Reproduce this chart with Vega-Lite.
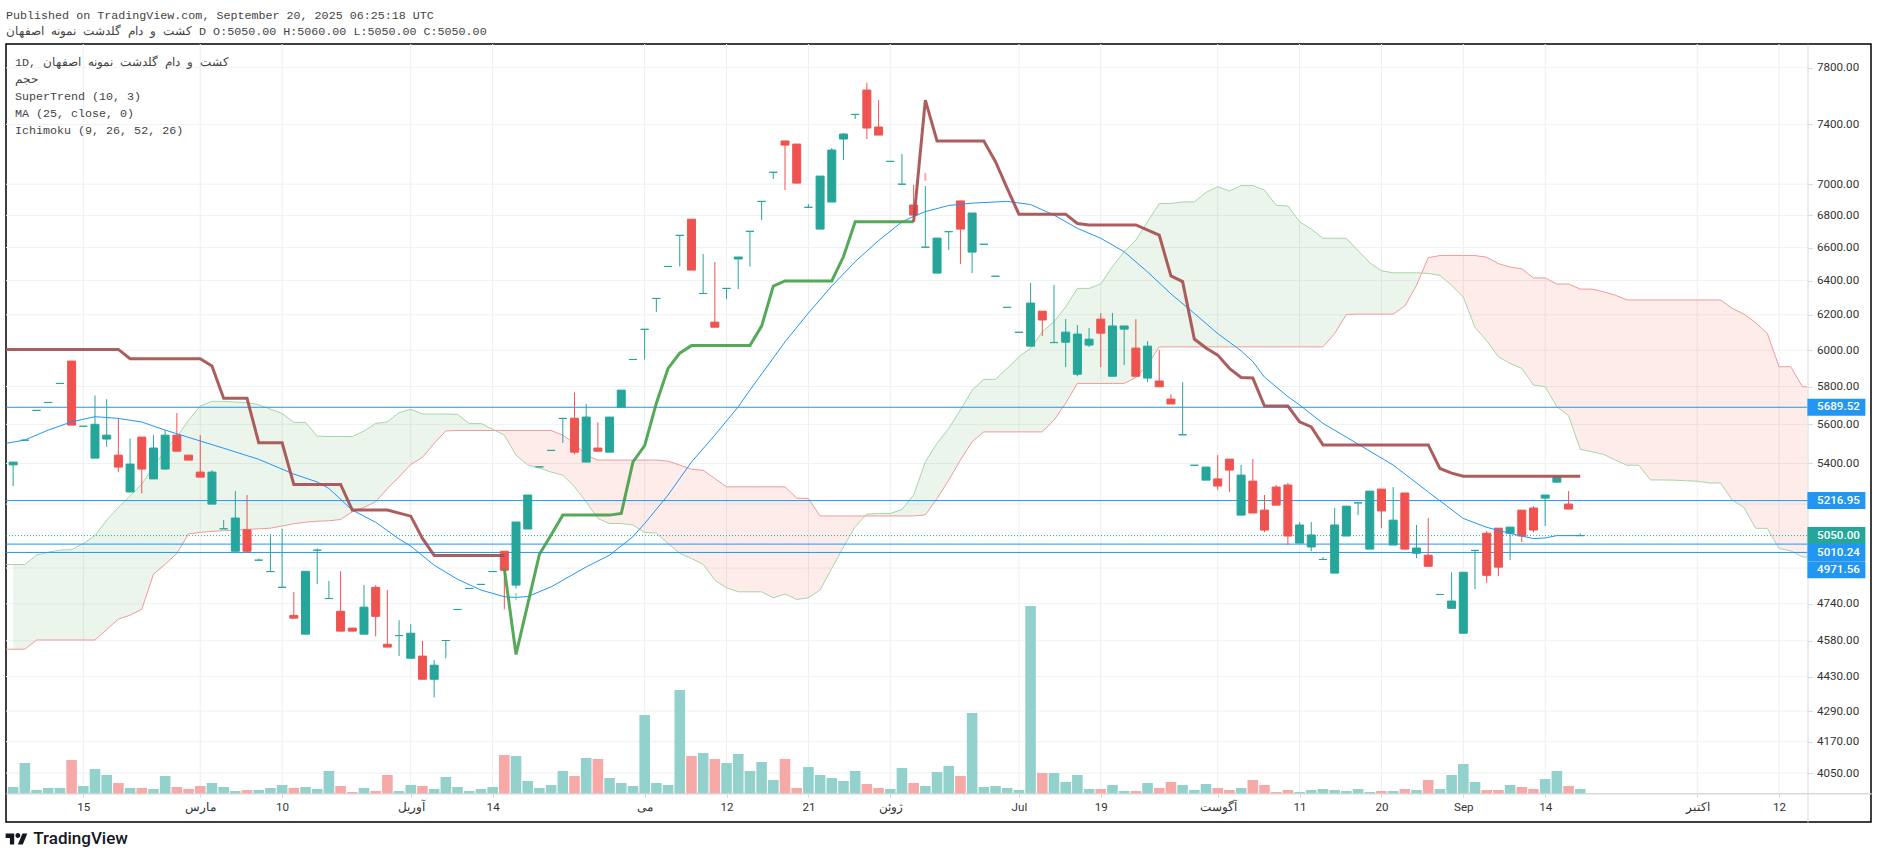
{
"$schema":"https://vega.github.io/schema/vega-lite/v6.json",
"autosize":"none","width":1865,"height":778,
"padding":{"left":6,"top":44,"right":7,"bottom":36},
"background":"#ffffff",
"config":{"view":{"stroke":"#000000","strokeWidth":1.5},"text":{"font":"Roboto"},"scale":{"continuousPadding":0}},
"title":{"text":"Published on TradingView.com, September 20, 2025 06:25:18 UTC","subtitle":"کشت و دام گلدشت نمونه اصفهان D O:5050.00 H:5060.00 L:5050.00 C:5050.00","anchor":"start","frame":"group","offset":6,"font":"Liberation Mono","fontSize":11.7,"fontWeight":"normal","color":"#444444","subtitleFont":"Liberation Mono","subtitleFontSize":11.7,"subtitleColor":"#444444","subtitlePadding":4},
"datasets":{
"candles":[
{"i":0,"o":5393,"h":5407,"l":5288,"c":5407,"v":6.3},{"i":1,"o":5518,"h":5518,"l":5518,"c":5518,"v":30.3},{"i":2,"o":5673,"h":5673,"l":5673,"c":5673,"v":3.3},{"i":3,"o":5715,"h":5715,"l":5715,"c":5715,"v":5.3},{"i":4,"o":5817,"h":5817,"l":5817,"c":5817,"v":5.3},{"i":5,"o":5939,"h":5939,"l":5596,"c":5596,"v":33.3},{"i":6,"o":5590,"h":5590,"l":5590,"c":5590,"v":7.3},{"i":7,"o":5427,"h":5752,"l":5427,"c":5600,"v":24.3},{"i":8,"o":5524,"h":5733,"l":5484,"c":5544,"v":18.3},{"i":9,"o":5442,"h":5631,"l":5356,"c":5382,"v":10.3},
{"i":10,"o":5259,"h":5527,"l":5259,"c":5397,"v":5.3},{"i":11,"o":5534,"h":5534,"l":5252,"c":5372,"v":5.3},{"i":12,"o":5323,"h":5544,"l":5323,"c":5478,"v":4.3},{"i":13,"o":5372,"h":5570,"l":5372,"c":5544,"v":17.3},{"i":14,"o":5544,"h":5659,"l":5462,"c":5462,"v":6.3},{"i":15,"o":5442,"h":5442,"l":5417,"c":5417,"v":4.3},{"i":16,"o":5357,"h":5544,"l":5332,"c":5332,"v":7.3},{"i":17,"o":5200,"h":5367,"l":5200,"c":5357,"v":10.3},{"i":18,"o":5082,"h":5123,"l":5082,"c":5082,"v":6.3},{"i":19,"o":4977,"h":5263,"l":4977,"c":5133,"v":2.3},
{"i":20,"o":5077,"h":5244,"l":4969,"c":4977,"v":3.3},{"i":21,"o":4936,"h":4944,"l":4936,"c":4936,"v":3.3},{"i":22,"o":4884,"h":5056,"l":4884,"c":4884,"v":5.3},{"i":23,"o":4813,"h":5083,"l":4813,"c":4813,"v":8.3},{"i":24,"o":4689,"h":4792,"l":4677,"c":4677,"v":5.3},{"i":25,"o":4608,"h":4885,"l":4608,"c":4885,"v":6.3},{"i":26,"o":4982,"h":4990,"l":4827,"c":4982,"v":4.3},{"i":27,"o":4763,"h":4841,"l":4763,"c":4763,"v":22.3},{"i":28,"o":4707,"h":4885,"l":4621,"c":4621,"v":7.3},{"i":29,"o":4634,"h":4634,"l":4621,"c":4621,"v":1.3},
{"i":30,"o":4608,"h":4823,"l":4608,"c":4725,"v":5.3},{"i":31,"o":4813,"h":4823,"l":4599,"c":4685,"v":2.3},{"i":32,"o":4565,"h":4801,"l":4553,"c":4553,"v":18.3},{"i":33,"o":4602,"h":4668,"l":4515,"c":4602,"v":2.3},{"i":34,"o":4506,"h":4651,"l":4506,"c":4612,"v":8.3},{"i":35,"o":4515,"h":4579,"l":4419,"c":4419,"v":7.3},{"i":36,"o":4419,"h":4498,"l":4345,"c":4477,"v":4.3},{"i":37,"o":4581,"h":4581,"l":4506,"c":4581,"v":16.3},{"i":38,"o":4715,"h":4715,"l":4715,"c":4715,"v":6.3},{"i":39,"o":4808,"h":4808,"l":4808,"c":4808,"v":2.3},
{"i":40,"o":4826,"h":4826,"l":4826,"c":4826,"v":4.3},{"i":41,"o":4884,"h":4884,"l":4884,"c":4884,"v":6.3},{"i":42,"o":4977,"h":4977,"l":4716,"c":4890,"v":38.3},{"i":43,"o":4823,"h":5114,"l":4808,"c":5114,"v":37.3},{"i":44,"o":5081,"h":5244,"l":5081,"c":5244,"v":12.3},{"i":45,"o":5383,"h":5383,"l":5383,"c":5383,"v":5.3},{"i":46,"o":5466,"h":5466,"l":5466,"c":5466,"v":8.3},{"i":47,"o":5631,"h":5631,"l":5504,"c":5631,"v":22.3},{"i":48,"o":5632,"h":5769,"l":5447,"c":5457,"v":17.3},{"i":49,"o":5407,"h":5707,"l":5407,"c":5638,"v":35.3},
{"i":50,"o":5478,"h":5611,"l":5462,"c":5462,"v":34.3},{"i":51,"o":5457,"h":5638,"l":5457,"c":5638,"v":15.3},{"i":52,"o":5689,"h":5781,"l":5689,"c":5781,"v":10.3},{"i":53,"o":5948,"h":5948,"l":5948,"c":5948,"v":7.3},{"i":54,"o":6117,"h":6117,"l":5948,"c":6117,"v":78.3},{"i":55,"o":6295,"h":6295,"l":6217,"c":6295,"v":10.3},{"i":56,"o":6485,"h":6485,"l":6485,"c":6485,"v":8.3},{"i":57,"o":6675,"h":6675,"l":6485,"c":6675,"v":103.3},{"i":58,"o":6776,"h":6776,"l":6463,"c":6463,"v":37.3},{"i":59,"o":6324,"h":6560,"l":6324,"c":6324,"v":40.3},
{"i":60,"o":6158,"h":6512,"l":6129,"c":6129,"v":34.3},{"i":61,"o":6354,"h":6354,"l":6291,"c":6354,"v":30.3},{"i":62,"o":6530,"h":6542,"l":6350,"c":6542,"v":39.3},{"i":63,"o":6700,"h":6700,"l":6485,"c":6700,"v":22.3},{"i":64,"o":6889,"h":6889,"l":6770,"c":6889,"v":31.3},{"i":65,"o":7078,"h":7078,"l":7034,"c":7078,"v":13.3},{"i":66,"o":7287,"h":7287,"l":6962,"c":7259,"v":34.3},{"i":67,"o":7266,"h":7266,"l":7007,"c":7007,"v":5.3},{"i":68,"o":6851,"h":6872,"l":6851,"c":6851,"v":26.3},{"i":69,"o":6714,"h":7053,"l":6714,"c":7053,"v":18.3},
{"i":70,"o":6885,"h":7239,"l":6885,"c":7226,"v":15.3},{"i":71,"o":7300,"h":7341,"l":7159,"c":7334,"v":12.3},{"i":72,"o":7469,"h":7469,"l":7437,"c":7469,"v":22.3},{"i":73,"o":7640,"h":7692,"l":7300,"c":7375,"v":9.3},{"i":74,"o":7382,"h":7569,"l":7327,"c":7327,"v":5.3},{"i":75,"o":7150,"h":7150,"l":7150,"c":7150,"v":4.3},{"i":76,"o":7000,"h":7199,"l":7000,"c":7000,"v":25.3},{"i":77,"o":6866,"h":6995,"l":6802,"c":6802,"v":10.3},{"i":78,"o":6602,"h":6988,"l":6602,"c":6602,"v":7.3},{"i":79,"o":6445,"h":6658,"l":6445,"c":6658,"v":21.3},
{"i":80,"o":6698,"h":6698,"l":6585,"c":6698,"v":27.3},{"i":81,"o":6892,"h":6892,"l":6500,"c":6714,"v":17.3},{"i":82,"o":6572,"h":6815,"l":6445,"c":6815,"v":80.3},{"i":83,"o":6620,"h":6620,"l":6620,"c":6620,"v":6.3},{"i":84,"o":6426,"h":6426,"l":6426,"c":6426,"v":7.3},{"i":85,"o":6243,"h":6243,"l":6243,"c":6243,"v":5.3},{"i":86,"o":6100,"h":6100,"l":6100,"c":6100,"v":3.3},{"i":87,"o":6022,"h":6386,"l":6022,"c":6268,"v":187.3},{"i":88,"o":6221,"h":6221,"l":6079,"c":6170,"v":20.3},{"i":89,"o":6042,"h":6374,"l":6042,"c":6042,"v":20.3},
{"i":90,"o":6044,"h":6175,"l":5906,"c":6101,"v":11.3},{"i":91,"o":5867,"h":6141,"l":5856,"c":6090,"v":18.3},{"i":92,"o":6028,"h":6124,"l":6017,"c":6061,"v":4.3},{"i":93,"o":6175,"h":6210,"l":5906,"c":6095,"v":4.3},{"i":94,"o":5856,"h":6210,"l":5856,"c":6136,"v":8.3},{"i":95,"o":6118,"h":6136,"l":5917,"c":6136,"v":2.3},{"i":96,"o":6011,"h":6175,"l":5856,"c":5856,"v":2.3},{"i":97,"o":5846,"h":6050,"l":5824,"c":6022,"v":10.3},{"i":98,"o":5830,"h":6000,"l":5799,"c":5799,"v":5.3},{"i":99,"o":5733,"h":5760,"l":5707,"c":5707,"v":11.3},
{"i":100,"o":5546,"h":5824,"l":5546,"c":5546,"v":8.3},{"i":101,"o":5391,"h":5391,"l":5391,"c":5391,"v":3.3},{"i":102,"o":5317,"h":5382,"l":5317,"c":5382,"v":9.3},{"i":103,"o":5323,"h":5442,"l":5268,"c":5288,"v":5.3},{"i":104,"o":5422,"h":5422,"l":5259,"c":5367,"v":3.3},{"i":105,"o":5147,"h":5392,"l":5147,"c":5342,"v":5.3},{"i":106,"o":5312,"h":5422,"l":5157,"c":5157,"v":13.3},{"i":107,"o":5171,"h":5244,"l":5066,"c":5076,"v":8.3},{"i":108,"o":5283,"h":5293,"l":5195,"c":5195,"v":1.3},{"i":109,"o":5293,"h":5303,"l":5006,"c":5048,"v":3.3},
{"i":110,"o":5015,"h":5114,"l":5015,"c":5100,"v":1.3},{"i":111,"o":4997,"h":5114,"l":4977,"c":5053,"v":3.3},{"i":112,"o":4939,"h":4950,"l":4939,"c":4939,"v":4.3},{"i":113,"o":4877,"h":5181,"l":4877,"c":5100,"v":3.3},{"i":114,"o":5048,"h":5190,"l":5048,"c":5190,"v":2.3},{"i":115,"o":5206,"h":5206,"l":5147,"c":5206,"v":4.3},{"i":116,"o":4987,"h":5263,"l":4987,"c":5263,"v":1.3},{"i":117,"o":5273,"h":5273,"l":5085,"c":5167,"v":2.3},{"i":118,"o":5006,"h":5283,"l":5006,"c":5123,"v":2.3},{"i":119,"o":5254,"h":5254,"l":4987,"c":4987,"v":4.3},
{"i":120,"o":4968,"h":5100,"l":4945,"c":4992,"v":3.3},{"i":121,"o":4959,"h":5133,"l":4908,"c":4908,"v":13.3},{"i":122,"o":4781,"h":4781,"l":4781,"c":4781,"v":4.3},{"i":123,"o":4720,"h":4881,"l":4720,"c":4752,"v":18.3},{"i":124,"o":4612,"h":4881,"l":4612,"c":4881,"v":29.3},{"i":125,"o":4981,"h":4981,"l":4805,"c":4981,"v":11.3},{"i":126,"o":5061,"h":5071,"l":4832,"c":4867,"v":3.3},{"i":127,"o":5085,"h":5085,"l":4863,"c":4904,"v":3.3},{"i":128,"o":5061,"h":5090,"l":4936,"c":5090,"v":8.3},{"i":129,"o":5171,"h":5171,"l":5020,"c":5048,"v":6.3},
{"i":130,"o":5181,"h":5190,"l":5066,"c":5076,"v":4.3},{"i":131,"o":5229,"h":5244,"l":5095,"c":5244,"v":14.3},{"i":132,"o":5307,"h":5332,"l":5307,"c":5332,"v":22.3},{"i":133,"o":5200,"h":5263,"l":5176,"c":5176,"v":7.3},{"i":134,"o":5050,"h":5060,"l":5050,"c":5050,"v":4.3}
],
"cloud":[
{"i":-0.6,"a":4916,"b":4544,"seg":"g1"},{"i":0,"a":4916,"b":4544,"seg":"g1"},{"i":1,"a":4916,"b":4544,"seg":"g1"},{"i":2,"a":4959,"b":4583,"seg":"g1"},{"i":3,"a":4973,"b":4583,"seg":"g1"},{"i":4,"a":4982,"b":4583,"seg":"g1"},{"i":5,"a":4985,"b":4583,"seg":"g1"},{"i":6,"a":5013,"b":4583,"seg":"g1"},{"i":7,"a":5050,"b":4583,"seg":"g1"},{"i":8,"a":5123,"b":4628,"seg":"g1"},{"i":9,"a":5184,"b":4673,"seg":"g1"},{"i":10,"a":5240,"b":4690,"seg":"g1"},{"i":11,"a":5297,"b":4716,"seg":"g1"},{"i":12,"a":5384,"b":4872,"seg":"g1"},{"i":13,"a":5468,"b":4917,"seg":"g1"},{"i":14,"a":5534,"b":4967,"seg":"g1"},{"i":15,"a":5622,"b":5058,"seg":"g1"},{"i":16,"a":5696,"b":5065,"seg":"g1"},{"i":17,"a":5721,"b":5070,"seg":"g1"},{"i":18,"a":5721,"b":5073,"seg":"g1"},{"i":19,"a":5717,"b":5076,"seg":"g1"},{"i":20,"a":5714,"b":5079,"seg":"g1"},{"i":21,"a":5703,"b":5082,"seg":"g1"},{"i":22,"a":5680,"b":5085,"seg":"g1"},{"i":23,"a":5657,"b":5095,"seg":"g1"},{"i":24,"a":5610,"b":5106,"seg":"g1"},{"i":25,"a":5610,"b":5113,"seg":"g1"},{"i":26,"a":5539,"b":5118,"seg":"g1"},{"i":27,"a":5537,"b":5120,"seg":"g1"},{"i":28,"a":5537,"b":5126,"seg":"g1"},{"i":29,"a":5537,"b":5163,"seg":"g1"},{"i":30,"a":5565,"b":5184,"seg":"g1"},{"i":31,"a":5605,"b":5211,"seg":"g1"},{"i":32,"a":5613,"b":5276,"seg":"g1"},{"i":33,"a":5661,"b":5333,"seg":"g1"},{"i":34,"a":5679,"b":5395,"seg":"g1"},{"i":35,"a":5654,"b":5431,"seg":"g1"},{"i":36,"a":5654,"b":5502,"seg":"g1"},{"i":37,"a":5654,"b":5566,"seg":"g1"},{"i":38,"a":5652,"b":5568,"seg":"g1"},{"i":39,"a":5605,"b":5568,"seg":"g1"},{"i":40,"a":5605,"b":5568,"seg":"g1"},{"i":41,"a":5574,"b":5568,"seg":"g1"},{"i":41.2,"a":5569,"b":5569,"seg":"g1"},
{"i":41.2,"a":5569,"b":5569,"seg":"r1"},{"i":42,"a":5544,"b":5568,"seg":"r1"},{"i":43,"a":5442,"b":5568,"seg":"r1"},{"i":44,"a":5392,"b":5568,"seg":"r1"},{"i":45,"a":5377,"b":5568,"seg":"r1"},{"i":46,"a":5357,"b":5568,"seg":"r1"},{"i":47,"a":5342,"b":5544,"seg":"r1"},{"i":48,"a":5284,"b":5502,"seg":"r1"},{"i":49,"a":5211,"b":5442,"seg":"r1"},{"i":50,"a":5131,"b":5417,"seg":"r1"},{"i":51,"a":5107,"b":5417,"seg":"r1"},{"i":52,"a":5107,"b":5417,"seg":"r1"},{"i":53,"a":5100,"b":5417,"seg":"r1"},{"i":54,"a":5065,"b":5417,"seg":"r1"},{"i":55,"a":5062,"b":5417,"seg":"r1"},{"i":56,"a":5013,"b":5412,"seg":"r1"},{"i":57,"a":4967,"b":5392,"seg":"r1"},{"i":58,"a":4944,"b":5371,"seg":"r1"},{"i":59,"a":4917,"b":5366,"seg":"r1"},{"i":60,"a":4845,"b":5325,"seg":"r1"},{"i":61,"a":4811,"b":5284,"seg":"r1"},{"i":62,"a":4793,"b":5284,"seg":"r1"},{"i":63,"a":4793,"b":5284,"seg":"r1"},{"i":64,"a":4793,"b":5284,"seg":"r1"},{"i":65,"a":4766,"b":5284,"seg":"r1"},{"i":66,"a":4783,"b":5284,"seg":"r1"},{"i":67,"a":4759,"b":5229,"seg":"r1"},{"i":68,"a":4766,"b":5227,"seg":"r1"},{"i":69,"a":4801,"b":5143,"seg":"r1"},{"i":70,"a":4898,"b":5143,"seg":"r1"},{"i":71,"a":4997,"b":5143,"seg":"r1"},{"i":72,"a":5092,"b":5143,"seg":"r1"},{"i":72.85,"a":5143,"b":5143,"seg":"r1"},
{"i":72.85,"a":5143,"b":5143,"seg":"g2"},{"i":73,"a":5152,"b":5143,"seg":"g2"},{"i":74,"a":5155,"b":5143,"seg":"g2"},{"i":75,"a":5155,"b":5143,"seg":"g2"},{"i":76,"a":5174,"b":5143,"seg":"g2"},{"i":77,"a":5244,"b":5143,"seg":"g2"},{"i":78,"a":5408,"b":5148,"seg":"g2"},{"i":79,"a":5502,"b":5227,"seg":"g2"},{"i":80,"a":5579,"b":5317,"seg":"g2"},{"i":81,"a":5675,"b":5417,"seg":"g2"},{"i":82,"a":5781,"b":5510,"seg":"g2"},{"i":83,"a":5839,"b":5561,"seg":"g2"},{"i":84,"a":5839,"b":5561,"seg":"g2"},{"i":85,"a":5899,"b":5561,"seg":"g2"},{"i":86,"a":5963,"b":5561,"seg":"g2"},{"i":87,"a":6009,"b":5561,"seg":"g2"},{"i":88,"a":6103,"b":5561,"seg":"g2"},{"i":89,"a":6160,"b":5622,"seg":"g2"},{"i":90,"a":6246,"b":5711,"seg":"g2"},{"i":91,"a":6354,"b":5817,"seg":"g2"},{"i":92,"a":6354,"b":5817,"seg":"g2"},{"i":93,"a":6380,"b":5817,"seg":"g2"},{"i":94,"a":6485,"b":5817,"seg":"g2"},{"i":95,"a":6574,"b":5817,"seg":"g2"},{"i":96,"a":6646,"b":5850,"seg":"g2"},{"i":97,"a":6760,"b":5917,"seg":"g2"},{"i":98,"a":6875,"b":6018,"seg":"g2"},{"i":99,"a":6875,"b":6018,"seg":"g2"},{"i":100,"a":6886,"b":6018,"seg":"g2"},{"i":101,"a":6886,"b":6018,"seg":"g2"},{"i":102,"a":6947,"b":6018,"seg":"g2"},{"i":103,"a":6984,"b":6018,"seg":"g2"},{"i":104,"a":6956,"b":6018,"seg":"g2"},{"i":105,"a":6991,"b":6018,"seg":"g2"},{"i":106,"a":6991,"b":6018,"seg":"g2"},{"i":107,"a":6962,"b":6018,"seg":"g2"},{"i":108,"a":6864,"b":6018,"seg":"g2"},{"i":109,"a":6860,"b":6018,"seg":"g2"},{"i":110,"a":6760,"b":6018,"seg":"g2"},{"i":111,"a":6714,"b":6018,"seg":"g2"},{"i":112,"a":6657,"b":6018,"seg":"g2"},{"i":113,"a":6657,"b":6093,"seg":"g2"},{"i":114,"a":6657,"b":6202,"seg":"g2"},{"i":115,"a":6581,"b":6204,"seg":"g2"},{"i":116,"a":6507,"b":6204,"seg":"g2"},{"i":117,"a":6459,"b":6204,"seg":"g2"},{"i":118,"a":6447,"b":6204,"seg":"g2"},{"i":119,"a":6447,"b":6251,"seg":"g2"},{"i":120,"a":6447,"b":6372,"seg":"g2"},{"i":120.44,"a":6445,"b":6445,"seg":"g2"},
{"i":120.44,"a":6445,"b":6445,"seg":"r2"},{"i":121,"a":6443,"b":6538,"seg":"r2"},{"i":122,"a":6431,"b":6551,"seg":"r2"},{"i":123,"a":6372,"b":6551,"seg":"r2"},{"i":124,"a":6303,"b":6551,"seg":"r2"},{"i":125,"a":6128,"b":6551,"seg":"r2"},{"i":126,"a":6052,"b":6541,"seg":"r2"},{"i":127,"a":5963,"b":6502,"seg":"r2"},{"i":128,"a":5926,"b":6481,"seg":"r2"},{"i":129,"a":5899,"b":6471,"seg":"r2"},{"i":130,"a":5808,"b":6416,"seg":"r2"},{"i":131,"a":5799,"b":6416,"seg":"r2"},{"i":132,"a":5692,"b":6380,"seg":"r2"},{"i":133,"a":5645,"b":6380,"seg":"r2"},{"i":134,"a":5472,"b":6350,"seg":"r2"},{"i":135,"a":5459,"b":6350,"seg":"r2"},{"i":136,"a":5446,"b":6334,"seg":"r2"},{"i":137,"a":5417,"b":6314,"seg":"r2"},{"i":138,"a":5391,"b":6286,"seg":"r2"},{"i":139,"a":5391,"b":6286,"seg":"r2"},{"i":140,"a":5318,"b":6286,"seg":"r2"},{"i":141,"a":5318,"b":6286,"seg":"r2"},{"i":142,"a":5317,"b":6286,"seg":"r2"},{"i":143,"a":5314,"b":6286,"seg":"r2"},{"i":144,"a":5312,"b":6286,"seg":"r2"},{"i":145,"a":5303,"b":6286,"seg":"r2"},{"i":146,"a":5303,"b":6286,"seg":"r2"},{"i":147,"a":5219,"b":6237,"seg":"r2"},{"i":148,"a":5184,"b":6204,"seg":"r2"},{"i":149,"a":5084,"b":6154,"seg":"r2"},{"i":150,"a":5084,"b":6093,"seg":"r2"},{"i":151,"a":4990,"b":5908,"seg":"r2"},{"i":152,"a":4979,"b":5908,"seg":"r2"},{"i":153,"a":4951,"b":5799,"seg":"r2"},{"i":153.4,"a":4949,"b":5799,"seg":"r2"}
],
"ma":[
{"i":-0.6,"p":5502},{"i":1,"p":5519},{"i":3,"p":5570},{"i":5,"p":5613},{"i":7,"p":5640},{"i":9,"p":5631},{"i":11,"p":5612},{"i":13,"p":5570},{"i":16,"p":5514},{"i":18,"p":5477},{"i":21,"p":5421},{"i":24,"p":5347},{"i":26,"p":5308},{"i":27,"p":5276},{"i":29,"p":5171},{"i":31,"p":5113},{"i":33,"p":5034},{"i":34,"p":5001},{"i":36,"p":4913},{"i":38,"p":4849},{"i":40,"p":4801},{"i":42,"p":4771},{"i":43,"p":4768},{"i":44,"p":4772},{"i":46,"p":4815},{"i":49,"p":4905},{"i":51,"p":4959},{"i":53,"p":5045},{"i":54,"p":5107},{"i":56,"p":5244},{"i":58,"p":5407},{"i":60,"p":5544},{"i":62,"p":5692},{"i":63,"p":5781},{"i":66,"p":6046},{"i":68,"p":6210},{"i":70,"p":6368},{"i":72,"p":6514},{"i":74,"p":6643},{"i":76,"p":6759},{"i":77,"p":6794},{"i":78,"p":6824},{"i":80,"p":6863},{"i":82,"p":6878},{"i":85,"p":6889},{"i":87,"p":6869},{"i":89,"p":6802},{"i":91,"p":6719},{"i":93,"p":6657},{"i":95,"p":6574},{"i":97,"p":6452},{"i":99,"p":6322},{"i":101,"p":6208},{"i":103,"p":6093},{"i":105,"p":5996},{"i":106,"p":5936},{"i":107,"p":5851},{"i":109,"p":5746},{"i":110,"p":5702},{"i":112,"p":5605},{"i":114,"p":5534},{"i":115,"p":5498},{"i":118,"p":5392},{"i":121,"p":5259},{"i":124,"p":5131},{"i":126,"p":5089},{"i":128,"p":5060},{"i":130,"p":5036},{"i":131,"p":5039},{"i":132,"p":5050},{"i":134,"p":5050}
],
"supertrend":[
{"i":-0.6,"p":6004,"seg":"down1"},{"i":9,"p":6004,"seg":"down1"},{"i":10,"p":5952,"seg":"down1"},{"i":16,"p":5952,"seg":"down1"},{"i":17,"p":5912,"seg":"down1"},{"i":18,"p":5737,"seg":"down1"},{"i":20,"p":5737,"seg":"down1"},{"i":21,"p":5505,"seg":"down1"},{"i":23,"p":5505,"seg":"down1"},{"i":24,"p":5296,"seg":"down1"},{"i":28,"p":5296,"seg":"down1"},{"i":29,"p":5171,"seg":"down1"},{"i":32,"p":5171,"seg":"down1"},{"i":34,"p":5142,"seg":"down1"},{"i":35,"p":5037,"seg":"down1"},{"i":36,"p":4958,"seg":"down1"},{"i":42,"p":4958,"seg":"down1"},
{"i":42,"p":4899,"seg":"up"},{"i":43,"p":4522,"seg":"up"},{"i":45,"p":4963,"seg":"up"},{"i":46,"p":5053,"seg":"up"},{"i":47,"p":5147,"seg":"up"},{"i":51,"p":5147,"seg":"up"},{"i":52,"p":5155,"seg":"up"},{"i":53,"p":5408,"seg":"up"},{"i":54,"p":5490,"seg":"up"},{"i":55,"p":5711,"seg":"up"},{"i":56,"p":5899,"seg":"up"},{"i":57,"p":5983,"seg":"up"},{"i":58,"p":6025,"seg":"up"},{"i":63,"p":6025,"seg":"up"},{"i":64,"p":6135,"seg":"up"},{"i":65,"p":6368,"seg":"up"},{"i":66,"p":6398,"seg":"up"},{"i":70,"p":6398,"seg":"up"},{"i":71,"p":6545,"seg":"up"},{"i":72,"p":6760,"seg":"up"},{"i":77,"p":6760,"seg":"up"},
{"i":77,"p":6760,"seg":"down2"},{"i":78,"p":7569,"seg":"down2"},{"i":79,"p":7287,"seg":"down2"},{"i":83,"p":7287,"seg":"down2"},{"i":84,"p":7148,"seg":"down2"},{"i":85,"p":6973,"seg":"down2"},{"i":86,"p":6808,"seg":"down2"},{"i":90,"p":6808,"seg":"down2"},{"i":91,"p":6749,"seg":"down2"},{"i":92,"p":6740,"seg":"down2"},{"i":96,"p":6740,"seg":"down2"},{"i":98,"p":6676,"seg":"down2"},{"i":99,"p":6428,"seg":"down2"},{"i":100,"p":6394,"seg":"down2"},{"i":101,"p":6062,"seg":"down2"},{"i":102,"p":6012,"seg":"down2"},{"i":103,"p":5972,"seg":"down2"},{"i":104,"p":5899,"seg":"down2"},{"i":105,"p":5849,"seg":"down2"},{"i":106,"p":5846,"seg":"down2"},{"i":107,"p":5696,"seg":"down2"},{"i":109,"p":5696,"seg":"down2"},{"i":110,"p":5613,"seg":"down2"},{"i":111,"p":5587,"seg":"down2"},{"i":112,"p":5494,"seg":"down2"},{"i":121,"p":5494,"seg":"down2"},{"i":122,"p":5375,"seg":"down2"},{"i":123,"p":5352,"seg":"down2"},{"i":124,"p":5336,"seg":"down2"},{"i":134,"p":5336,"seg":"down2"}
],
"flips":[{"i":43,"lo":4756,"hi":4787,"kind":"up"},{"i":78,"lo":7022,"hi":7073,"kind":"down"}],
"levels":[{"p":5689.52},{"p":5216.95},{"p":5010.24},{"p":4971.56}],
"ygrid":[{"p":7800},{"p":7400},{"p":7000},{"p":6800},{"p":6600},{"p":6400},{"p":6200},{"p":6000},{"p":5800},{"p":5600},{"p":5400},{"p":5200},{"p":4900},{"p":4740},{"p":4580},{"p":4430},{"p":4290},{"p":4170},{"p":4050}],
"xgrid":[{"i":6},{"i":16},{"i":23},{"i":34},{"i":41},{"i":54},{"i":61},{"i":68},{"i":75},{"i":86},{"i":93},{"i":103},{"i":110},{"i":117},{"i":124},{"i":131},{"i":144},{"i":151}]
},
"resolve":{"scale":{"y":"independent"},"axis":{"y":"independent"}},
"layer":[
{"layer":[
{"data":{"name":"xgrid"},"mark":{"type":"rule","color":"#eceef1","strokeWidth":1},"encoding":{"x":{"field":"i","type":"quantitative","title":null,"scale":{"domain":[-0.61,158.86],"nice":false,"zero":false},"axis":{"title":null,"grid":false,"offset":-28.7,"values":[6,16,23,34,41,54,61,68,75,86,93,103,110,117,124,131,144,151],"labelExpr":"{'6':'15','16':'مارس','23':'10','34':'آوریل','41':'14','54':'می','61':'12','68':'21','75':'ژوئن','86':'Jul','93':'19','103':'آگوست','110':'11','117':'20','124':'Sep','131':'14','144':'اکتبر','151':'12'}[datum.value]","domainColor":"#d9d9d9","domainWidth":1.5,"tickColor":"#d9d9d9","tickSize":4,"labelFont":"Roboto","labelFontSize":11.6,"labelColor":"#333333","labelPadding":4,"labelFlush":false,"labelOverlap":false}},"y":{"datum":7974,"scale":{"type":"log","domain":[3870,7974],"nice":false}},"y2":{"datum":3974}}},
{"data":{"name":"ygrid"},"mark":{"type":"rule","color":"#f0f1f3","strokeWidth":1},"encoding":{"x":{"datum":-0.61,"scale":{"domain":[-0.61,158.86],"nice":false,"zero":false}},"x2":{"datum":153.4},"y":{"field":"p","type":"quantitative","title":null,"scale":{"type":"log","domain":[3870,7974],"nice":false},"axis":{"title":null,"orient":"right","offset":-63.5,"grid":false,"values":[7800,7400,7000,6800,6600,6400,6200,6000,5800,5600,5400,4740,4580,4430,4290,4170,4050],"format":".2f","labelFont":"Roboto","labelFontSize":11.6,"labelColor":"#333333","labelPadding":4,"tickSize":5,"tickColor":"#d9d9d9","domainColor":"#d9d9d9","labelOverlap":false,"labelBound":false,"labelFlush":false}}}}
]},
{"data":{"name":"candles"},"mark":{"type":"bar","size":10.6},"encoding":{"x":{"field":"i","type":"quantitative","scale":{"domain":[-0.61,158.86],"nice":false,"zero":false}},"y":{"field":"v","type":"quantitative","scale":{"domain":[-28.7,749.3],"nice":false,"zero":false},"axis":null},"color":{"condition":{"test":"datum.c>=datum.o","value":"#93d2cc"},"value":"#f7a9a7"}}},
{"layer":[
{"data":{"name":"cloud"},"transform":[{"filter":"datum.i>=0"}],"mark":{"type":"area","opacity":0.1},"encoding":{"x":{"field":"i","type":"quantitative","scale":{"domain":[-0.61,158.86],"nice":false,"zero":false}},"y":{"field":"a","type":"quantitative","scale":{"type":"log","domain":[3870,7974],"nice":false},"axis":null},"y2":{"field":"b"},"color":{"field":"seg","scale":{"domain":["g1","r1","g2","r2"],"range":["#43a047","#f44336","#43a047","#f44336"]},"legend":null}}},
{"data":{"name":"cloud"},"mark":{"type":"line","color":"#a5d6a7","strokeWidth":1},"encoding":{"x":{"field":"i","type":"quantitative","scale":{"domain":[-0.61,158.86],"nice":false,"zero":false}},"y":{"field":"a","type":"quantitative","scale":{"type":"log","domain":[3870,7974],"nice":false},"axis":null}}},
{"data":{"name":"cloud"},"mark":{"type":"line","color":"#ef9a9a","strokeWidth":1},"encoding":{"x":{"field":"i","type":"quantitative","scale":{"domain":[-0.61,158.86],"nice":false,"zero":false}},"y":{"field":"b","type":"quantitative","scale":{"type":"log","domain":[3870,7974],"nice":false},"axis":null}}},
{"data":{"name":"levels"},"mark":{"type":"rule","color":"#2196f3","strokeWidth":1},"encoding":{"x":{"datum":-0.61,"scale":{"domain":[-0.61,158.86],"nice":false,"zero":false}},"x2":{"datum":153.4},"y":{"field":"p","type":"quantitative","scale":{"type":"log","domain":[3870,7974],"nice":false},"axis":null}}},
{"data":{"values":[{"p":5050}]},"mark":{"type":"rule","color":"#26a69a","strokeWidth":1,"strokeDash":[1,2]},"encoding":{"x":{"datum":-0.61,"scale":{"domain":[-0.61,158.86],"nice":false,"zero":false}},"x2":{"datum":153.4},"y":{"field":"p","type":"quantitative","scale":{"type":"log","domain":[3870,7974],"nice":false},"axis":null}}},
{"data":{"name":"candles"},"mark":{"type":"rule","strokeWidth":1},"encoding":{"x":{"field":"i","type":"quantitative","scale":{"domain":[-0.61,158.86],"nice":false,"zero":false}},"y":{"field":"l","type":"quantitative","scale":{"type":"log","domain":[3870,7974],"nice":false},"axis":null},"y2":{"field":"h"},"color":{"condition":{"test":"datum.c>=datum.o","value":"#26a69a"},"value":"#ef5350"}}},
{"data":{"name":"candles"},"mark":{"type":"bar","size":8,"strokeWidth":1},"encoding":{"x":{"field":"i","type":"quantitative","scale":{"domain":[-0.61,158.86],"nice":false,"zero":false}},"y":{"field":"o","type":"quantitative","scale":{"type":"log","domain":[3870,7974],"nice":false},"axis":null},"y2":{"field":"c"},"color":{"condition":{"test":"datum.c>=datum.o","value":"#26a69a"},"value":"#ef5350"},"stroke":{"condition":{"test":"datum.c>=datum.o","value":"#26a69a"},"value":"#ef5350"}}},
{"data":{"name":"ma"},"mark":{"type":"line","color":"#2196f3","strokeWidth":1},"encoding":{"x":{"field":"i","type":"quantitative","scale":{"domain":[-0.61,158.86],"nice":false,"zero":false}},"y":{"field":"p","type":"quantitative","scale":{"type":"log","domain":[3870,7974],"nice":false},"axis":null}}},
{"data":{"name":"supertrend"},"mark":{"type":"line","strokeWidth":3,"opacity":0.9},"encoding":{"x":{"field":"i","type":"quantitative","scale":{"domain":[-0.61,158.86],"nice":false,"zero":false}},"y":{"field":"p","type":"quantitative","scale":{"type":"log","domain":[3870,7974],"nice":false},"axis":null},"detail":{"field":"seg"},"color":{"condition":{"test":"datum.seg=='up'","value":"#43a047"},"value":"#a34d4d"}}},
{"data":{"name":"flips"},"mark":{"type":"rule","strokeWidth":2,"opacity":0.6},"encoding":{"x":{"field":"i","type":"quantitative","scale":{"domain":[-0.61,158.86],"nice":false,"zero":false}},"y":{"field":"lo","type":"quantitative","scale":{"type":"log","domain":[3870,7974],"nice":false},"axis":null},"y2":{"field":"hi"},"color":{"condition":{"test":"datum.kind=='up'","value":"#66e066"},"value":"#ff6b6b"}}},
{"data":{"values":[{"label":"5689.52","p":5689.52}]},"mark":{"type":"tick","orient":"horizontal","size":58,"thickness":17,"color":"#2196f3","opacity":1},"encoding":{"x":{"datum":155.9,"scale":{"domain":[-0.61,158.86],"nice":false,"zero":false}},"y":{"field":"p","type":"quantitative","scale":{"type":"log","domain":[3870,7974],"nice":false},"axis":null}}},
{"data":{"values":[{"label":"5216.95","p":5216.95}]},"mark":{"type":"tick","orient":"horizontal","size":58,"thickness":17,"color":"#2196f3","opacity":1},"encoding":{"x":{"datum":155.9,"scale":{"domain":[-0.61,158.86],"nice":false,"zero":false}},"y":{"field":"p","type":"quantitative","scale":{"type":"log","domain":[3870,7974],"nice":false},"axis":null}}},
{"data":{"values":[{"label":"5010.24","p":5010.24}]},"mark":{"type":"tick","orient":"horizontal","size":58,"thickness":17,"color":"#2196f3","opacity":1,"yOffset":8.4},"encoding":{"x":{"datum":155.9,"scale":{"domain":[-0.61,158.86],"nice":false,"zero":false}},"y":{"field":"p","type":"quantitative","scale":{"type":"log","domain":[3870,7974],"nice":false},"axis":null}}},
{"data":{"values":[{"label":"4971.56","p":4971.56}]},"mark":{"type":"tick","orient":"horizontal","size":58,"thickness":17,"color":"#2196f3","opacity":1,"yOffset":17.4},"encoding":{"x":{"datum":155.9,"scale":{"domain":[-0.61,158.86],"nice":false,"zero":false}},"y":{"field":"p","type":"quantitative","scale":{"type":"log","domain":[3870,7974],"nice":false},"axis":null}}},
{"data":{"values":[{"label":"5050.00","p":5050}]},"mark":{"type":"tick","orient":"horizontal","size":58,"thickness":17,"color":"#26a69a","opacity":1},"encoding":{"x":{"datum":155.9,"scale":{"domain":[-0.61,158.86],"nice":false,"zero":false}},"y":{"field":"p","type":"quantitative","scale":{"type":"log","domain":[3870,7974],"nice":false},"axis":null}}},
{"data":{"values":[{"label":"5689.52","p":5689.52},{"label":"5216.95","p":5216.95},{"label":"5050.00","p":5050}]},"mark":{"type":"text","align":"left","baseline":"middle","color":"#ffffff","fontSize":11.6,"fontWeight":500,"font":"Roboto"},"encoding":{"x":{"datum":154.25,"scale":{"domain":[-0.61,158.86],"nice":false,"zero":false}},"y":{"field":"p","type":"quantitative","scale":{"type":"log","domain":[3870,7974],"nice":false},"axis":null},"text":{"field":"label"}}},
{"data":{"values":[{"label":"5010.24","p":5010.24}]},"mark":{"type":"text","align":"left","baseline":"middle","color":"#ffffff","fontSize":11.6,"fontWeight":500,"font":"Roboto","yOffset":8.4},"encoding":{"x":{"datum":154.25,"scale":{"domain":[-0.61,158.86],"nice":false,"zero":false}},"y":{"field":"p","type":"quantitative","scale":{"type":"log","domain":[3870,7974],"nice":false},"axis":null},"text":{"field":"label"}}},
{"data":{"values":[{"label":"4971.56","p":4971.56}]},"mark":{"type":"text","align":"left","baseline":"middle","color":"#ffffff","fontSize":11.6,"fontWeight":500,"font":"Roboto","yOffset":17.4},"encoding":{"x":{"datum":154.25,"scale":{"domain":[-0.61,158.86],"nice":false,"zero":false}},"y":{"field":"p","type":"quantitative","scale":{"type":"log","domain":[3870,7974],"nice":false},"axis":null},"text":{"field":"label"}}},
{"data":{"values":[{"name":"legend"}]},"mark":{"type":"text","align":"left","baseline":"top","font":"Liberation Mono","fontSize":11.7,"color":"#444444","lineHeight":17,"text":["1D, کشت و دام گلدشت نمونه اصفهان","حجم","SuperTrend (10, 3)","MA (25, close, 0)","Ichimoku (9, 26, 52, 26)"]},"encoding":{"x":{"datum":0.15,"scale":{"domain":[-0.61,158.86],"nice":false,"zero":false}},"y":{"datum":7880,"scale":{"type":"log","domain":[3870,7974],"nice":false},"axis":null}}},
{"data":{"values":[{"name":"logo"}]},"mark":{"type":"point","filled":true,"opacity":1,"clip":false,"color":"#131722","size":484,"shape":"M-.222 .5H-.611V-.111H-1V-.5H-.222ZM.556 .5H.111L.528 -.5H.972ZM.333 -.333A.222 .222 0 1 1 -.111 -.333A.222 .222 0 1 1 .333 -.333Z"},"encoding":{"x":{"datum":0.3,"scale":{"domain":[-0.61,158.86],"nice":false,"zero":false}},"y":{"datum":3809,"scale":{"type":"log","domain":[3870,7974],"nice":false},"axis":null}}},
{"data":{"values":[{"name":"TradingView"}]},"mark":{"type":"text","align":"left","baseline":"middle","font":"Roboto","fontSize":17,"fontWeight":500,"color":"#131722","clip":false},"encoding":{"x":{"datum":1.72,"scale":{"domain":[-0.61,158.86],"nice":false,"zero":false}},"y":{"datum":3809,"scale":{"type":"log","domain":[3870,7974],"nice":false},"axis":null},"text":{"field":"name"}}}
]}
]
}
